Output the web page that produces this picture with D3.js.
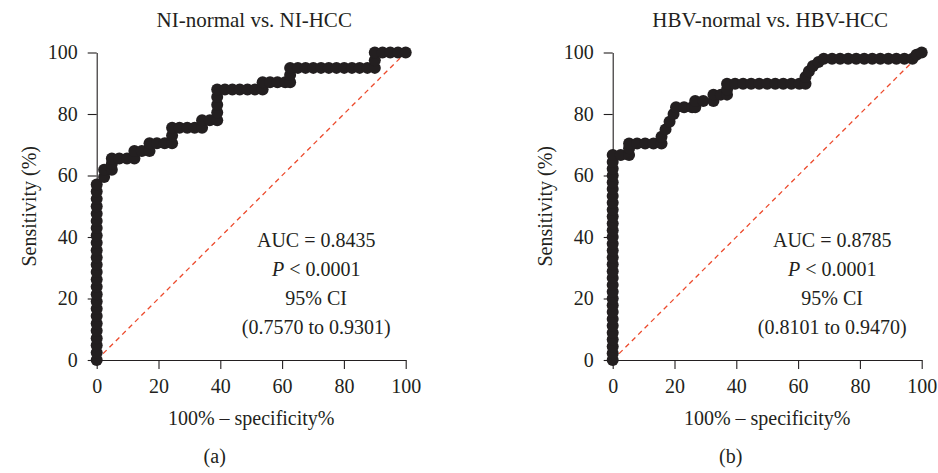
<!DOCTYPE html>
<html><head><meta charset="utf-8">
<script src="https://cdn.jsdelivr.net/npm/d3@7"></script>
<style>
body{margin:0;background:#fff}
svg{display:block}
svg text{font-family:"Liberation Serif","Times New Roman",serif !important;fill:#231f20}
</style>
</head><body><svg id="c" width="938" height="473"></svg>
<script>
const xTicks=[0,20,40,60,80,100];
const yTicks=[0,20,40,60,80,100];
const titles=["NI-normal vs. NI-HCC","HBV-normal vs. HBV-HCC"];
const panelLabels=["(a)","(b)"];
const aucValues=["0.8435","0.8785"];
const pValues=["0.0001","0.0001"];
const ciRanges=["(0.7570 to 0.9301)","(0.8101 to 0.9470)"];
const xTitle="100% \u2013 specificity%";
const yTitle="Sensitivity (%)";
const refLine=[[0,0],[100,100]];

// ROC points [100% - specificity, sensitivity]
const niRoc=[
[0,0],[0,2.4],[0,4.8],[0,7.1],[0,9.5],[0,11.9],[0,14.3],[0,16.7],[0,19],[0,21.4],[0,23.8],[0,26.2],[0,28.6],[0,31],[0,33.3],[0,35.7],[0,38.1],[0,40.5],[0,42.9],[0,45.2],[0,47.6],[0,50],[0,52.4],[0,54.8],[0,57.1],
[2.4,59.5],[2.4,61.9],[4.9,61.9],[4.9,63.8],[4.9,65.5],[7.3,65.5],[9.8,65.5],[12.2,65.5],[12.2,68],[14.6,68],[17.1,68],[17.1,70.5],[19.5,70.5],[22,70.5],[24.4,70.5],[24.4,73],[24.4,75.5],[26.8,75.5],[29.3,75.5],[31.7,75.5],[34.1,75.5],[34.1,78],[36.6,78],[39,78],[39,80.5],[39,83],[39,85.5],[39,88],[41.5,88],[43.9,88],[46.3,88],[48.8,88],[51.2,88],[53.7,88],[53.7,90.3],[56.1,90.3],[58.5,90.3],[61,90.3],[62.6,90.3],[62.6,92.7],[62.6,95],[65.1,95],[67.6,95],[70.1,95],[72.6,95],[75.1,95],[77.6,95],[80.1,95],[82.6,95],[85.1,95],[87.6,95],[90,95],[90,97.5],[90,100],[92.5,100],[95,100],[97.5,100],[100,100]
];
const hbvRoc=[
[0,0],[0,2.2],[0,4.4],[0,6.7],[0,8.9],[0,11.1],[0,13.3],[0,15.6],[0,17.8],[0,20],[0,22.2],[0,24.4],[0,26.7],[0,28.9],[0,31.1],[0,33.3],[0,35.6],[0,37.8],[0,40],[0,42.2],[0,44.4],[0,46.7],[0,48.9],[0,51.1],[0,53.3],[0,55.6],[0,57.8],[0,60],[0,62.2],[0,64.4],[0,66.7],
[2.6,66.7],[5.3,66.7],[5.3,68.9],[5.3,70.4],[7.9,70.4],[10.5,70.4],[13.2,70.4],[15.8,70.4],[15.8,72.6],[17.1,75],[18.4,77.5],[19.7,80],[20.5,82.2],[23.1,82.2],[25.7,82.2],[26.7,82.2],[26.7,84.2],[29.3,84.2],[32.6,84.2],[32.6,86.3],[35,86.3],[37,86.3],[37,88],[37,89.8],[39.6,89.8],[42.2,89.8],[44.8,89.8],[47.4,89.8],[50,89.8],[52.6,89.8],[55.2,89.8],[57.8,89.8],[60.4,89.8],[62.4,89.8],[62.4,92],[63.5,93.9],[64.8,95.6],[66.6,96.9],[68.3,98],[71,98],[73.6,98],[76.2,98],[78.8,98],[81.4,98],[84,98],[86.6,98],[89.2,98],[91.8,98],[94.4,98],[97,98],[98.3,99.3],[100,100]
];

const rocs=[niRoc,hbvRoc];
const panelX=[96.7,612.7];
const plotW=309, yTop=52.5, yBot=360;
const ink="#231f20";
const serif='"Liberation Serif","Times New Roman",serif';
const svg=d3.select("#c");

rocs.forEach((roc,i)=>{
  const x=d3.scaleLinear().domain([0,100]).range([panelX[i],panelX[i]+plotW]);
  const y=d3.scaleLinear().domain([0,100]).range([yBot,yTop]);
  const g=svg.append("g");
  const cx=(panelX[i]+panelX[i]+plotW)/2;

  // axes
  const xa=g.append("g").attr("transform",`translate(0,${yBot})`)
    .call(d3.axisBottom(x).tickValues(xTicks).tickSize(9).tickSizeOuter(0).tickPadding(10));
  const ya=g.append("g").attr("transform",`translate(${panelX[i]},0)`)
    .call(d3.axisLeft(y).tickValues(yTicks).tickSize(9).tickSizeOuter(0).tickPadding(10));
  [xa,ya].forEach(a=>{
    a.attr("font-family",serif).attr("font-size",20);
    a.select(".domain").attr("stroke",ink).attr("stroke-width",1.1);
    a.selectAll(".tick line").attr("stroke",ink).attr("stroke-width",1.1);
    a.selectAll(".tick text").style("font-size","20px").style("font-family",serif).attr("fill",ink);
  });

  // reference diagonal
  g.append("path").attr("d",d3.line().x(d=>x(d[0])).y(d=>y(d[1]))(refLine))
    .attr("stroke","#ec4a2c").attr("stroke-width",1.3).attr("stroke-dasharray","5,4").attr("fill","none");

  // ROC curve
  g.append("path").attr("d",d3.line().x(d=>x(d[0])).y(d=>y(d[1]))(roc))
    .attr("stroke",ink).attr("stroke-width",4).attr("fill","none");
  g.selectAll("circle.pt").data(roc).join("circle").attr("class","pt")
    .attr("cx",d=>x(d[0])).attr("cy",d=>y(d[1])).attr("r",6).attr("fill",ink);

  // titles
  g.append("text").attr("x",cx+3).attr("y",27).attr("text-anchor","middle").attr("font-size",21).text(titles[i]);
  g.append("text").attr("x",cx).attr("y",425).attr("text-anchor","middle").attr("font-size",20).text(xTitle);
  g.append("text").attr("transform",`translate(${panelX[i]-61},${(yTop+yBot)/2}) rotate(-90)`)
    .attr("text-anchor","middle").attr("font-size",20).text(yTitle);
  g.append("text").attr("x",panelX[i]+118).attr("y",463).attr("text-anchor","middle").attr("font-size",20).text(panelLabels[i]);

  // stats
  const sx=panelX[i]+219.5;
  g.append("text").attr("x",sx).attr("y",247).attr("text-anchor","middle").attr("font-size",20).text("AUC = "+aucValues[i]);
  const pt=g.append("text").attr("x",sx).attr("y",276).attr("text-anchor","middle").attr("font-size",20);
  pt.append("tspan").attr("font-style","italic").text("P");
  pt.append("tspan").text(" < "+pValues[i]);
  g.append("text").attr("x",sx).attr("y",305).attr("text-anchor","middle").attr("font-size",20).text("95% CI");
  g.append("text").attr("x",sx).attr("y",334).attr("text-anchor","middle").attr("font-size",20).text(ciRanges[i]);
});
</script>
</body></html>
